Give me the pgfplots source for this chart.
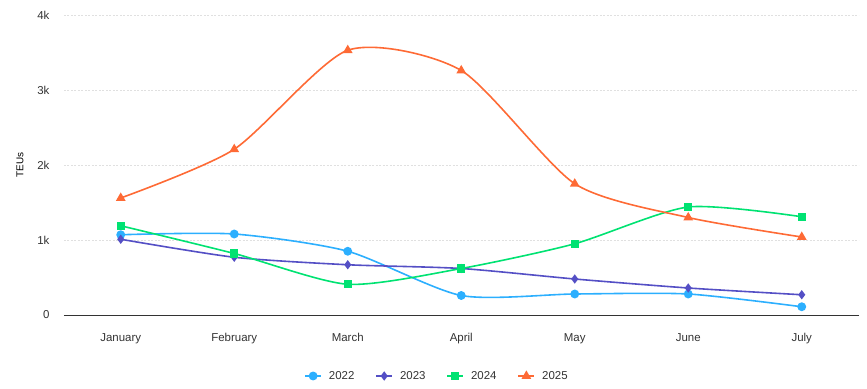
\documentclass[border=0pt]{standalone}
\usepackage{pgfplots}
\pgfplotsset{compat=1.18}
\usepackage{fontspec}
\setmainfont{Liberation Sans}
\definecolor{c22}{HTML}{2CAFFE}
\definecolor{c23}{HTML}{544FC5}
\definecolor{c24}{HTML}{00E272}
\definecolor{c25}{HTML}{FE6A35}
\definecolor{txt}{HTML}{333333}
\definecolor{ttl}{HTML}{666666}
\definecolor{grd}{HTML}{E0E0E0}
\begin{document}
\begin{tikzpicture}[x=1bp,y=1bp]
\path[use as bounding box] (-64bp,-74bp) rectangle (803bp,315bp);
\begin{axis}[
  at={(0,0)}, anchor=south west,
  scale only axis, width=794.5bp, height=300bp,
  xmin=-0.5, xmax=6.5, ymin=0, ymax=4000,
  xtick={0,...,6},
  xticklabels={January,February,March,April,May,June,July},
  ytick={0,1000,2000,3000,4000},
  yticklabels={0,1k,2k,3k,4k},
  axis x line*=bottom, axis y line*=left,
  x axis line style={draw=txt, line width=0.8bp, -},
  y axis line style={draw=none},
  major tick length=0pt,
  ymajorgrids, grid style={draw=grd, dash pattern=on 2bp off 1.5bp, line width=0.6bp},
  tick label style={font=\fontsize{11.5}{13}\selectfont, text=txt},
  /pgf/number format/assume math mode=true,
  xticklabel style={yshift=-15bp},
  yticklabel style={xshift=-11bp},
  ylabel={TEUs}, ylabel style={font=\fontsize{11}{12}\selectfont, text=ttl},
  every axis y label/.style={at={(-44bp,150bp)}, rotate=90, anchor=center},
  clip=false,
  legend columns=4,
  legend style={at={(373bp,-61bp)}, anchor=center, draw=none, fill=none,
    font=\fontsize{11.5}{13}\selectfont, text=txt,
    /tikz/every odd column/.append style={column sep=5bp},
    /tikz/every even column/.append style={column sep=19bp}},
  legend image code/.code={\draw[#1, mark=none] (-8bp,0) -- (8bp,0); \draw[#1, only marks] plot coordinates {(0,0)};},
  every axis plot/.append style={line width=1.6bp, smooth, tension=0.42},
]
\addplot[c22, mark=*, mark size=3.6bp, mark options={fill=c22, draw=c22}] coordinates {(0,1070) (1,1080) (2,850) (3,260) (4,280) (5,280) (6,110)};
\addlegendentry{2022}
\addplot[c23, mark=diamond*, mark size=3.4bp, mark options={fill=c23, draw=c23}] coordinates {(0,1010) (1,770) (2,670) (3,620) (4,480) (5,360) (6,270)};
\addlegendentry{2023}
\addplot[c24, mark=square*, mark size=3.3bp, mark options={fill=c24, draw=c24}] coordinates {(0,1190) (1,820) (2,410) (3,620) (4,950) (5,1440) (6,1310)};
\addlegendentry{2024}
\addplot[c25, mark=triangle*, mark size=4bp, mark options={fill=c25, draw=c25}] coordinates {(0,1560) (1,2210) (2,3530) (3,3260) (4,1750) (5,1300) (6,1040)};
\addlegendentry{2025}
\end{axis}
\end{tikzpicture}
\end{document}
